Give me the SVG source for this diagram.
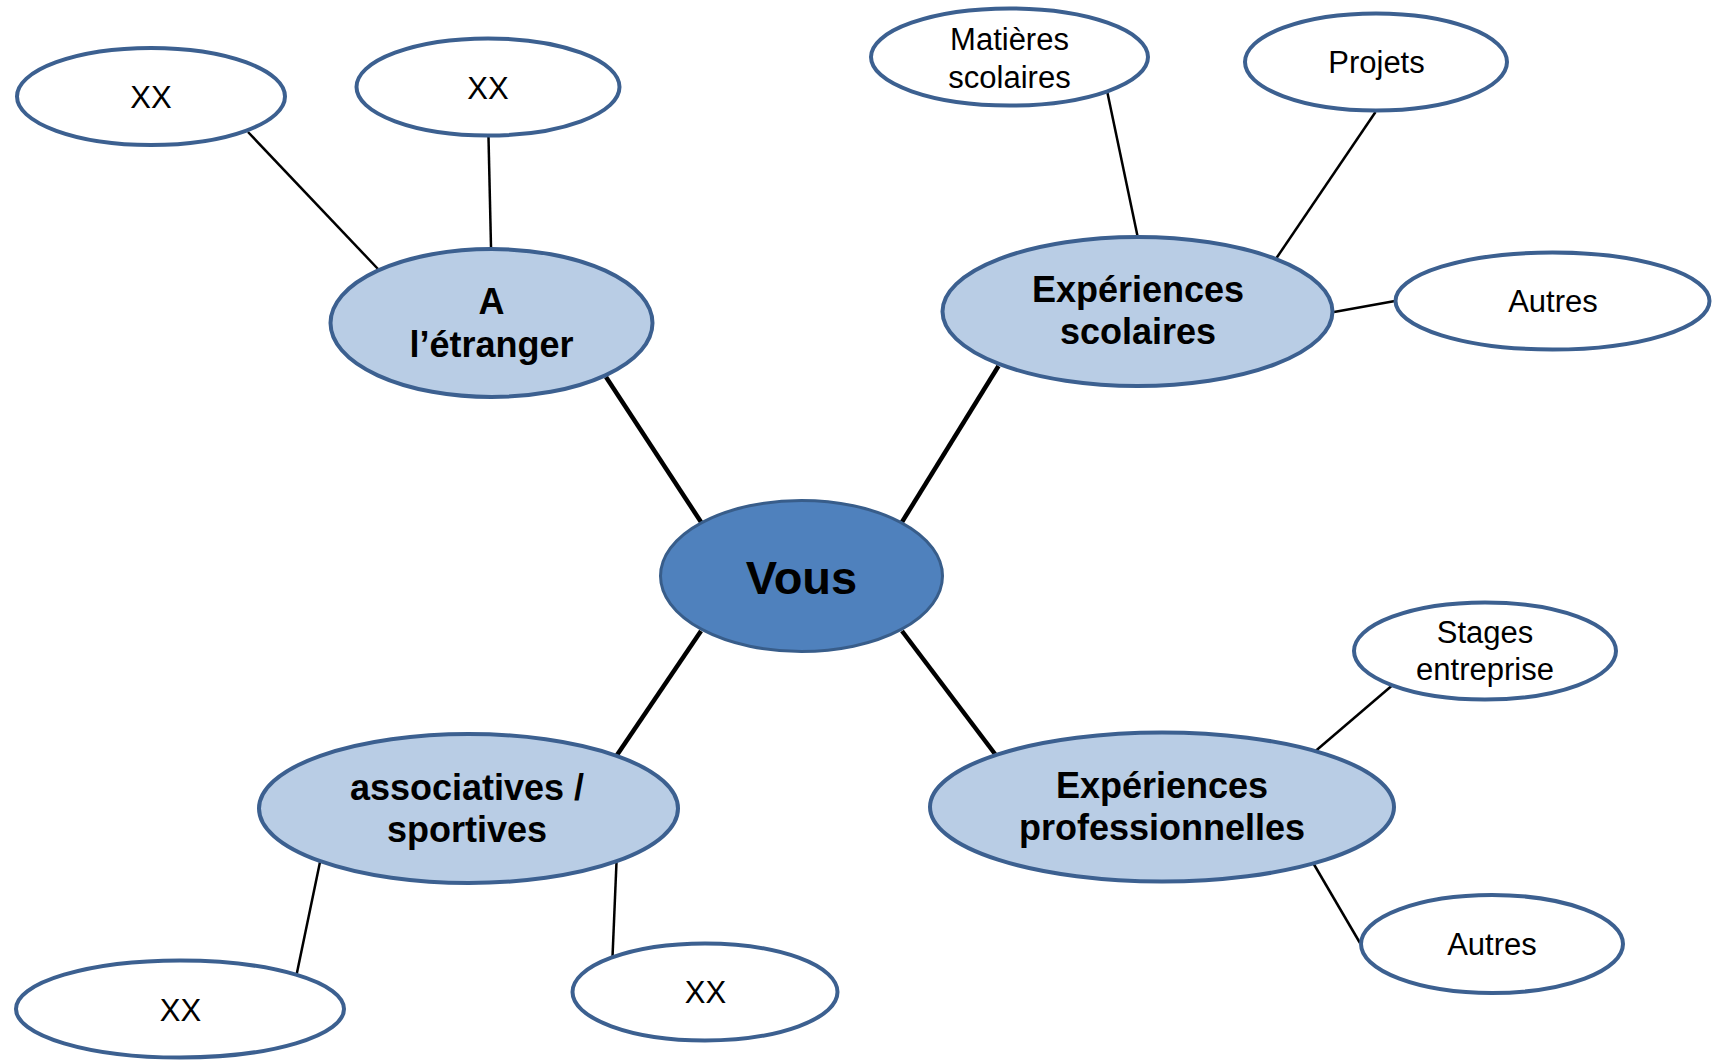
<svg xmlns="http://www.w3.org/2000/svg" width="1713" height="1060" viewBox="0 0 1713 1060">
<style>
.main{fill:#b9cde5;stroke:#3c6090;stroke-width:4}
.leaf{fill:#ffffff;stroke:#3c6090;stroke-width:4}
.center{fill:#4f81bd;stroke:#385d8a;stroke-width:3}
.thick{stroke:#000;stroke-width:4.5;fill:none}
.thin{stroke:#000;stroke-width:2.5;fill:none}
text{font-family:"Liberation Sans",Arial,sans-serif;text-anchor:middle;fill:#000}
.mt{font-size:36px;font-weight:bold}
.lt{font-size:31px}
.ct{font-size:47px;font-weight:bold}
</style>
<rect width="1713" height="1060" fill="#ffffff"/>
<g id="connectors">
<line class="thick" x1="701" y1="522" x2="606" y2="377"/>
<line class="thick" x1="902" y1="522" x2="998.5" y2="366"/>
<line class="thick" x1="701" y1="631" x2="617" y2="755"/>
<line class="thick" x1="902" y1="631" x2="995" y2="754"/>
<line class="thin" x1="248" y1="132" x2="378" y2="269"/>
<line class="thin" x1="488.5" y1="137" x2="491" y2="247"/>
<line class="thin" x1="1107.5" y1="93" x2="1137.5" y2="236"/>
<line class="thin" x1="1375.5" y1="112" x2="1276.5" y2="258"/>
<line class="thin" x1="1334" y1="312" x2="1395" y2="301"/>
<line class="thin" x1="320" y1="862" x2="296.5" y2="975"/>
<line class="thin" x1="616.5" y1="862" x2="612.5" y2="957"/>
<line class="thin" x1="1391.5" y1="686" x2="1312" y2="754"/>
<line class="thin" x1="1312" y1="861" x2="1360" y2="943"/>
</g>
<g id="node-vous">
<ellipse class="center" cx="801.5" cy="576" rx="141" ry="75.5"/>
<text class="ct" x="801.5" y="594">Vous</text>
</g>
<g id="node-etranger">
<ellipse class="main" cx="491.5" cy="323" rx="161" ry="74"/>
<text class="mt" x="491.5" y="314">A</text>
<text class="mt" x="491.5" y="357">l’étranger</text>
</g>
<g id="node-scolaires">
<ellipse class="main" cx="1137.5" cy="311.5" rx="195" ry="74.5"/>
<text class="mt" x="1138" y="302">Expériences</text>
<text class="mt" x="1138" y="344">scolaires</text>
</g>
<g id="node-associatives">
<ellipse class="main" cx="468.5" cy="808.5" rx="209.5" ry="74.5"/>
<text class="mt" x="467" y="800">associatives /</text>
<text class="mt" x="467" y="842">sportives</text>
</g>
<g id="node-professionnelles">
<ellipse class="main" cx="1162" cy="807" rx="232" ry="74.5"/>
<text class="mt" x="1162" y="798">Expériences</text>
<text class="mt" x="1162" y="840">professionnelles</text>
</g>
<g id="node-xx1">
<ellipse class="leaf" cx="151" cy="96.5" rx="134" ry="48.5"/>
<text class="lt" x="151" y="107.5">XX</text>
</g>
<g id="node-xx2">
<ellipse class="leaf" cx="488" cy="87" rx="131.5" ry="48.5"/>
<text class="lt" x="488" y="99">XX</text>
</g>
<g id="node-matieres">
<ellipse class="leaf" cx="1009.5" cy="57" rx="138.5" ry="48.5"/>
<text class="lt" x="1009.5" y="49.5">Matières</text>
<text class="lt" x="1009.5" y="87.5">scolaires</text>
</g>
<g id="node-projets">
<ellipse class="leaf" cx="1376" cy="62" rx="131" ry="48.5"/>
<text class="lt" x="1376.5" y="72.5">Projets</text>
</g>
<g id="node-autres1">
<ellipse class="leaf" cx="1552.5" cy="301" rx="157" ry="48.5"/>
<text class="lt" x="1553" y="311.5">Autres</text>
</g>
<g id="node-stages">
<ellipse class="leaf" cx="1485" cy="651" rx="131" ry="48.5"/>
<text class="lt" x="1485" y="643">Stages</text>
<text class="lt" x="1485" y="680">entreprise</text>
</g>
<g id="node-autres2">
<ellipse class="leaf" cx="1492" cy="944" rx="131" ry="49"/>
<text class="lt" x="1492" y="955">Autres</text>
</g>
<g id="node-xx3">
<ellipse class="leaf" cx="180" cy="1009" rx="164" ry="48.5"/>
<text class="lt" x="180.5" y="1021">XX</text>
</g>
<g id="node-xx4">
<ellipse class="leaf" cx="705" cy="992" rx="132.5" ry="48.5"/>
<text class="lt" x="705.5" y="1003">XX</text>
</g>
</svg>
